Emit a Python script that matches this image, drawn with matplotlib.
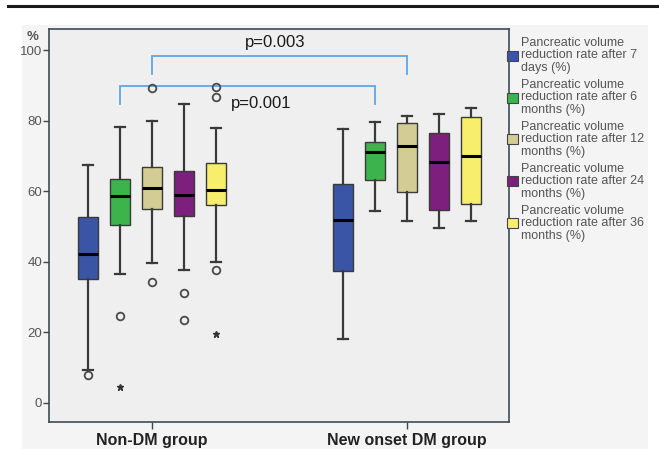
import matplotlib
matplotlib.use("Agg")
import matplotlib.pyplot as plt
from matplotlib.patches import Rectangle, Patch
from matplotlib.lines import Line2D

plt.rcParams['font.family'] = ['Liberation Sans', 'DejaVu Sans']

groups = ["Non-DM group", "New onset DM group"]
series = ["Pancreatic volume\nreduction rate after 7\ndays (%)",
          "Pancreatic volume\nreduction rate after 6\nmonths (%)",
          "Pancreatic volume\nreduction rate after 12\nmonths (%)",
          "Pancreatic volume\nreduction rate after 24\nmonths (%)",
          "Pancreatic volume\nreduction rate after 36\nmonths (%)"]
colors = ["#3a54a6", "#3cb44b", "#d3cd95", "#7d1f7c", "#f7ee6c"]

# [whislo, q1, med, q3, whishi] per group per series
nondm_stats = [[9.3, 35.2, 42.2, 52.7, 67.4],
               [36.4, 50.5, 58.7, 63.5, 78.2],
               [39.5, 54.8, 61.0, 66.9, 79.9],
               [37.6, 52.9, 58.9, 65.8, 84.8],
               [39.8, 56.0, 60.3, 68.0, 78.0]]
newdm_stats = [[18.1, 37.3, 51.8, 62.1, 77.5],
               [54.5, 63.1, 71.2, 73.9, 79.7],
               [51.6, 59.7, 72.9, 79.4, 81.4],
               [49.4, 54.6, 68.3, 76.6, 81.9],
               [51.6, 56.4, 70.0, 81.0, 83.5]]
nondm_outliers = [[7.8], [24.5], [34.2, 89.4], [31.0, 23.4], [37.7, 89.6, 86.8]]
nondm_extremes = [[], [4.4], [], [], [19.4]]
newdm_outliers = [[], [], [], [], []]
newdm_extremes = [[], [], [], [], []]

yticks = [0, 20, 40, 60, 80, 100]
p_texts = ["p=0.003", "p=0.001"]
p_bracket_y = [98.3, 89.9]
p_bracket_drop = [93.2, 84.6]
p_bracket_series = [2, 1]

fig = plt.figure(figsize=(6.59, 4.49), dpi=100)
fig.patch.set_facecolor("white")
# chart image background
fig.patches.append(Rectangle((22/659, 0), (648-22)/659, 1-25/449,
                             transform=fig.transFigure, facecolor="#f4f4f4",
                             edgecolor="none", zorder=-5))
# top rule
fig.add_artist(Line2D([8/659, 1.0], [1-5.7/449, 1-5.7/449], color="#1a1a1a",
                      lw=2.2, transform=fig.transFigure))

ax = fig.add_axes([49/659, 1-422/449, 460/659, (422-29)/449])
ax.set_zorder(1)
ax.set_facecolor("#efefef")

offsets = [-0.25, -0.125, 0.0, 0.125, 0.25]
width = 20/255
for gi, (stats_all, outs, extr) in enumerate([(nondm_stats, nondm_outliers, nondm_extremes),
                                              (newdm_stats, newdm_outliers, newdm_extremes)]):
    for si in range(5):
        lo, q1, med, q3, hi = stats_all[si]
        st = dict(whislo=lo, q1=q1, med=med, q3=q3, whishi=hi, fliers=[])
        pos = gi + offsets[si]
        ax.bxp([st], positions=[pos], widths=width, patch_artist=True,
               showfliers=False,
               boxprops=dict(facecolor=colors[si], edgecolor="#3a3a3a", lw=1.0),
               medianprops=dict(color="black", lw=2.2),
               whiskerprops=dict(color="#3a3a3a", lw=1.6),
               capprops=dict(color="#3a3a3a", lw=1.6),
               capwidths=width/2)
        if outs[si]:
            ax.plot([pos]*len(outs[si]), outs[si], 'o', mfc="none", mec="#4a4a4a",
                    ms=5.5, mew=1.3, zorder=4)
        if extr[si]:
            ax.plot([pos]*len(extr[si]), extr[si], '*', color="#333333",
                    ms=5, zorder=4)

# p-value brackets
bracket_color = "#5ea6e6"
for k in range(2):
    s = p_bracket_series[k]
    x0 = 0 + offsets[s]
    x1 = 1 + offsets[s]
    y = p_bracket_y[k]
    yd = p_bracket_drop[k]
    ax.plot([x0, x0, x1, x1], [yd, y, y, yd], color=bracket_color, lw=1.3,
            solid_joinstyle="miter", clip_on=False)
ax.text(0.484, 102.2, p_texts[0], ha="center", va="center", fontsize=12,
        color="#1a1a1a")
ax.text(0.43, 85.0, p_texts[1], ha="center", va="center", fontsize=12,
        color="#1a1a1a")

ax.set_xlim(-0.404, 1.4)
ax.set_ylim(-5.5, 106)
ax.set_xticks([0, 1])
ax.set_xticklabels(groups, fontsize=11.5, fontweight="bold", color="#222222")
ax.set_yticks(yticks)
ax.set_yticklabels([str(t) for t in yticks], fontsize=9.5, color="#555555")
ax.tick_params(axis="y", length=4, width=1, color="#3a4a50", pad=1)
ax.tick_params(axis="x", length=5, width=1, color="#3a4a50", pad=3)
for sp in ax.spines.values():
    sp.set_color("#3d4d55")
    sp.set_linewidth(1.2)
ax.text(-0.467, 103.6, "%", ha="center", va="center", fontsize=9.5,
        color="#555555", fontweight="bold", clip_on=False)

handles = [Patch(facecolor=c, edgecolor="#444444", lw=0.8) for c in colors]
leg = fig.legend(handles, series, loc="upper left",
                 bbox_to_anchor=(507/659, 1-37/449), frameon=False,
                 fontsize=9, handlelength=0.85, handleheight=0.85,
                 handletextpad=0.25, labelspacing=0.4, borderaxespad=0,
                 borderpad=0)
for t in leg.get_texts():
    t.set_color("#555555")
    t.set_linespacing(1.05)

fig.savefig("out.png", dpi=100)
